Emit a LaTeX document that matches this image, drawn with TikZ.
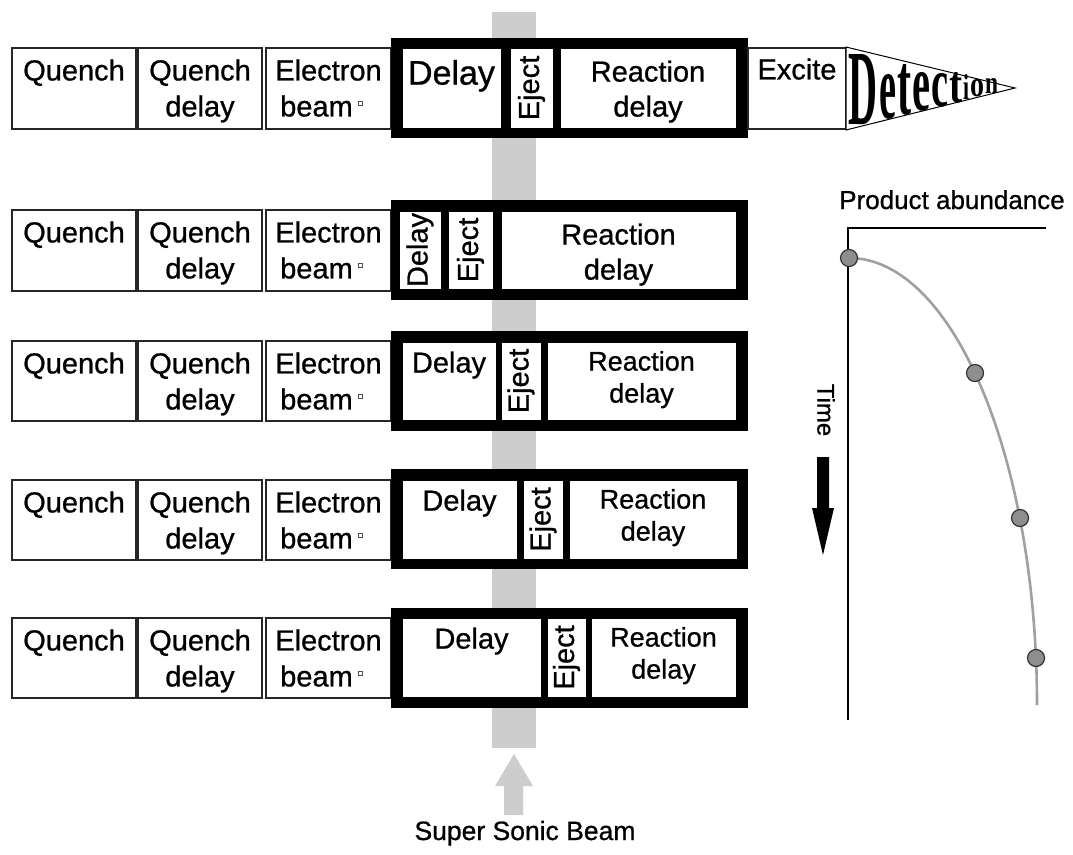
\documentclass[tikz,border=0pt]{standalone}
\usepackage{graphicx}
\usepackage{fontspec}
\setmainfont{Liberation Sans}[FakeBold=0.8]
\newfontfamily\detfont{Liberation Serif}
\usetikzlibrary{fit}
\definecolor{beamgray}{HTML}{CDCDCD}
\definecolor{curvegray}{HTML}{A0A0A0}
\definecolor{dotgray}{HTML}{8E8E8E}
\tikzset{
 thinbox/.style={draw=black!85, line width=1.1pt, fill=white, inner sep=0pt},
 innerbox/.style={draw=black, line width=0.8pt, fill=white, inner sep=0pt},
 frame/.style={fill=black, inner sep=0pt},
 lbl/.style={font=\fontsize{29pt}{29pt}\selectfont, anchor=base, inner sep=0pt},
 lblbig/.style={font=\fontsize{34pt}{34pt}\selectfont, anchor=base, inner sep=0pt},
 lblsm/.style={font=\fontsize{27pt}{27pt}\selectfont, anchor=base, inner sep=0pt},
 vlbl/.style={font=\fontsize{29pt}{29pt}\selectfont, rotate=90, inner sep=0pt},
 tinysq/.style={draw=black!70, line width=0.5pt, fill=white, minimum size=4pt, inner sep=0pt},
 detl/.style={anchor=base, inner sep=0pt},
 dotc/.style={circle, fill=dotgray, draw=black!80, line width=1.2pt, minimum size=17pt, inner sep=0pt},
 axisline/.style={line width=2.4pt, black},
 curveline/.style={line width=2.6pt, curvegray},
}
\newcommand\thinrow[3]{%
 \node[thinbox, fit={(12,#2) (136,#3)}] (q#1) {};
 \node[lbl] (q#1t) at ([yshift=-33pt]q#1.north) {Quench};
 \node[thinbox, fit={(138,#2) (262,#3)}] (qd#1) {};
 \node[lbl] (qd#1a) at ([yshift=-33pt]qd#1.north) {Quench};
 \node[lbl] (qd#1b) at ([yshift=-69pt]qd#1.north) {delay};
 \node[thinbox, fit={(266,#2) (391,#3)}] (eb#1) {};
 \node[lbl] (eb#1a) at ([yshift=-33pt]eb#1.north) {Electron};
 \node[lbl] (eb#1b) at ([xshift=-12pt,yshift=-69pt]eb#1.north) {beam};
 \node[tinysq] (eb#1s) at ([xshift=95pt,yshift=-56pt]eb#1.north west) {};
}
\newcommand\dl[6]{\node[detl] (#1) at (#3,#4) {\resizebox{#5pt}{#6pt}{\detfont\bfseries #2}};}
\begin{document}
\begin{tikzpicture}[x=1pt,y=-1pt]
\useasboundingbox (0,0) rectangle (1073,854);
\fill[white] (0,0) rectangle (1073,854);
% supersonic beam
\fill[beamgray] (492,12) rectangle (536,748);
\fill[beamgray] (504,815) -- (504,786) -- (495,786) -- (514,754) -- (533,786) -- (523,786) -- (523,815) -- cycle;
\node[font=\fontsize{26.5pt}{26.5pt}\selectfont, anchor=base, inner sep=0pt] (ssb) at (525,840) {Super Sonic Beam};

% ---------- row 1
\thinrow{1}{48}{129}
\node[frame, fit={(391,38) (748,138)}] (f1) {};
\node[innerbox, fit={(402,48) (501,128)}] (d1) {};
\node[innerbox, fit={(510,48) (553,128)}] (j1) {};
\node[innerbox, fit={(560,48) (736,128)}] (r1) {};
\node[lblbig] (d1t) at ([yshift=-37pt]d1.north) {Delay};
\node[vlbl] (j1t) at (j1.center) {Eject};
\node[lbl] (r1a) at ([yshift=-34pt]r1.north) {Reaction};
\node[lbl] (r1b) at ([yshift=-69pt]r1.north) {delay};
\node[thinbox, fit={(748,48) (846,129)}] (ex) {};
\node[lbl] (ext) at ([yshift=-32pt]ex.north) {Excite};
\coordinate (dtop) at (846,47);
\coordinate (dtip) at (1015,88);
\coordinate (dbot) at (846,130);
\draw[line width=1pt, fill=white] (dtop) -- (dtip) -- (dbot) -- cycle;
\dl{L1}{D}{862.5}{124}{29}{70}
\dl{L2}{e}{887.5}{118}{17}{44}
\dl{L3}{t}{904}{114}{14}{50}
\dl{L4}{e}{921}{110}{18}{38}
\dl{L5}{c}{939.5}{106}{17}{33}
\dl{L6}{t}{955.5}{102}{13}{30}
\dl{L7}{i}{966}{99}{6}{25}
\dl{L8}{o}{977}{96.5}{14}{17}
\dl{L9}{n}{991.5}{93.5}{13}{15}

% ---------- row 2
\thinrow{2}{210}{291}
\node[frame, fit={(391,200) (748,300)}] (f2) {};
\node[innerbox, fit={(399,211) (441,289)}] (d2) {};
\node[innerbox, fit={(448,211) (493,289)}] (j2) {};
\node[innerbox, fit={(501,211) (736,289)}] (r2) {};
\node[vlbl] (d2t) at (d2.center) {Delay};
\node[vlbl] (j2t) at (j2.center) {Eject};
\node[lbl] (r2a) at ([yshift=-34pt]r2.north) {Reaction};
\node[lbl] (r2b) at ([yshift=-69pt]r2.north) {delay};

% ---------- row 3
\thinrow{3}{341}{421}
\node[frame, fit={(391,331) (748,431)}] (f3) {};
\node[innerbox, fit={(402,342) (496,420)}] (d3) {};
\node[innerbox, fit={(501,342) (541,420)}] (j3) {};
\node[innerbox, fit={(547,342) (736,420)}] (r3) {};
\node[lbl] (d3t) at ([yshift=-31pt]d3.north) {Delay};
\node[vlbl] (j3t) at (j3.center) {Eject};
\node[lblsm] (r3a) at ([yshift=-29pt]r3.north) {Reaction};
\node[lblsm] (r3b) at ([yshift=-61pt]r3.north) {delay};

% ---------- row 4
\thinrow{4}{480}{560}
\node[frame, fit={(391,469) (748,569)}] (f4) {};
\node[innerbox, fit={(402,480) (517,559)}] (d4) {};
\node[innerbox, fit={(523,480) (563,559)}] (j4) {};
\node[innerbox, fit={(569,480) (737,559)}] (r4) {};
\node[lbl] (d4t) at ([yshift=-31pt]d4.north) {Delay};
\node[vlbl] (j4t) at (j4.center) {Eject};
\node[lblsm] (r4a) at ([yshift=-29pt]r4.north) {Reaction};
\node[lblsm] (r4b) at ([yshift=-61pt]r4.north) {delay};

% ---------- row 5
\thinrow{5}{618}{698}
\node[frame, fit={(391,608) (748,708)}] (f5) {};
\node[innerbox, fit={(402,618) (541,697)}] (d5) {};
\node[innerbox, fit={(547,618) (586,697)}] (j5) {};
\node[innerbox, fit={(591,618) (736,697)}] (r5) {};
\node[lbl] (d5t) at ([yshift=-31pt]d5.north) {Delay};
\node[vlbl] (j5t) at (j5.center) {Eject};
\node[lblsm] (r5a) at ([yshift=-29pt]r5.north) {Reaction};
\node[lblsm] (r5b) at ([yshift=-61pt]r5.north) {delay};

% ---------- graph
\node[font=\fontsize{26pt}{26pt}\selectfont, anchor=base, inner sep=0pt] (pa) at (952,209) {Product abundance};
\coordinate (axr) at (1046,228);
\coordinate (axo) at (848,228);
\coordinate (axb) at (848,720);
\draw[axisline] (axr) -- (axo) -- (axb);
\coordinate (cst) at (849,258);
\draw[curveline] (cst) arc[start angle=90, end angle=0, x radius=188pt, y radius=447pt];
\node[dotc] (p1) at (849,258) {};
\node[dotc] (p2) at (975,373) {};
\node[dotc] (p3) at (1020,518) {};
\node[dotc] (p4) at (1036,658) {};
\node[font=\fontsize{24pt}{24pt}\selectfont, rotate=-90, inner sep=0pt] (time) at (826,410) {Time};
\fill[black] (817,457) -- (829,457) -- (829,508) -- (834,508) -- (823,555) -- (812,508) -- (817,508) -- cycle;
\end{tikzpicture}
\end{document}
